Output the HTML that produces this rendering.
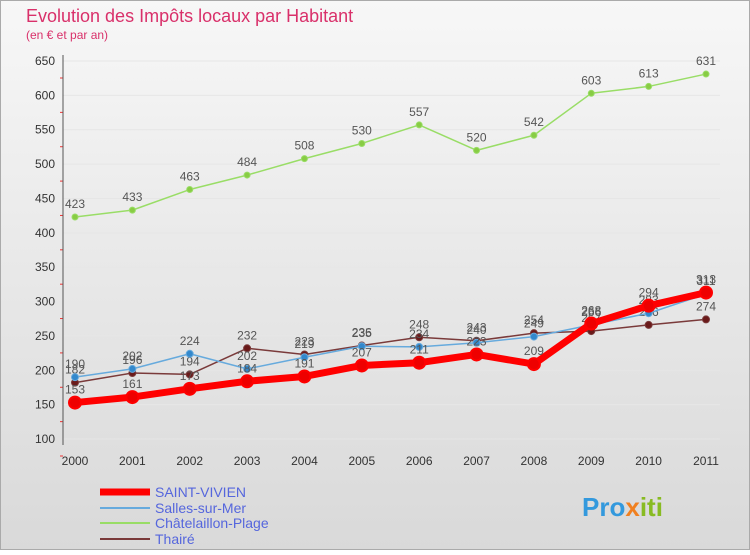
<!DOCTYPE html>
<html><head><meta charset="utf-8"><style>
body{margin:0;width:750px;height:550px;overflow:hidden;font-family:"Liberation Sans",sans-serif}
</style></head><body>
<svg id="c" width="750" height="550" xmlns="http://www.w3.org/2000/svg">
<defs><linearGradient id="bg" x1="0" y1="0" x2="0" y2="1"><stop offset="0" stop-color="#f7f7f7"/><stop offset="1" stop-color="#d9d9d9"/></linearGradient></defs>
<rect x="0.5" y="0.5" width="749" height="549" fill="url(#bg)" stroke="#aaa"/>
<text x="26" y="22" font-size="18" fill="#d9306a">Evolution des Impôts locaux par Habitant</text>
<text x="26" y="39" font-size="12" fill="#d9306a">(en € et par an)</text>
<g id="grid"></g><g id="axes"></g><g id="series"></g><g id="legend"></g>
<text x="582" y="516" font-size="26" font-weight="bold" fill="#3399dd">Pro<tspan fill="#f08020">x</tspan><tspan fill="#88bb22">iti</tspan></text>
</svg>
<script>
const years=[2000,2001,2002,2003,2004,2005,2006,2007,2008,2009,2010,2011];
const yTicks=[100,150,200,250,300,350,400,450,500,550,600,650];
const saintVivien=[153,161,173,184,191,207,211,223,209,268,294,313];
const salles=[190,202,224,202,219,235,234,240,249,266,283,311];
const chatelaillon=[423,433,463,484,508,530,557,520,542,603,613,631];
const thaire=[182,196,194,232,223,236,248,243,254,257,266,274];
const NS="http://www.w3.org/2000/svg";
const X=i=>75+i*(706-75)/11, Y=v=>439-(v-100)*(439-61)/550;
function mk(p,t,a){const e=document.createElementNS(NS,t);for(const k in a)e.setAttribute(k,a[k]);p.appendChild(e);return e;}
const g=document.getElementById('grid'),ax=document.getElementById('axes'),s=document.getElementById('series'),lg=document.getElementById('legend');
yTicks.forEach(v=>{
 const l=mk(g,'line',{x1:63,x2:720,y1:Y(v),y2:Y(v),stroke:'#e6e6e6'});
 
 
 const t=mk(ax,'text',{x:55,y:Y(v)+4,'font-size':12,fill:'#333','text-anchor':'end'});t.textContent=v;
 
 
 mk(ax,'line',{x1:60,x2:63,y1:Y(v)+17,y2:Y(v)+17,stroke:'#e33'});
});
const al=mk(ax,'line',{x1:63,x2:63,y1:55,y2:445,stroke:'#555'});


years.forEach((y,i)=>{const t=mk(ax,'text',{x:X(i),y:465,'font-size':12,fill:'#333','text-anchor':'middle'});t.textContent=y;
 
 });
function draw(d,col,w,r,dot,name,ly,lw){
 const p=mk(s,'polyline',{points:d.map((v,i)=>X(i)+','+Y(v)).join(' '),fill:'none',stroke:col,'stroke-width':w,'stroke-linejoin':'round'});
 
 
 d.forEach((v,i)=>{const c=mk(s,'circle',{cx:X(i),cy:Y(v),r:r,fill:dot,stroke:col,'stroke-width':w>3?2:1});
  
  
  const t=mk(s,'text',{x:X(i),y:Y(v)-9,'font-size':12,fill:'#555','text-anchor':'middle'});t.textContent=v;
  
  });
 const ll=mk(lg,'line',{x1:100,x2:150,y1:ly,y2:ly,stroke:col,'stroke-width':lw});
 
 
}
draw(chatelaillon,'#99dd66',1.5,3,'#88cc44','chatelaillon',523,2);
draw(thaire,'#7a3a3a',1.5,3.5,'#6a1a1a','thaire',539,2);
draw(salles,'#66aadd',1.5,3.5,'#3388cc','salles',508,2);
draw(saintVivien,'#ff0000',7,6,'#ee0000','saint-vivien',492,7);
[['SAINT-VIVIEN',497],['Salles-sur-Mer',513],['Châtelaillon-Plage',528],['Thairé',544]].forEach(([n,y])=>{
 const t=mk(lg,'text',{x:155,y:y,'font-size':14,fill:'#5566dd'});t.textContent=n;
 
 });
</script>
</body></html>
